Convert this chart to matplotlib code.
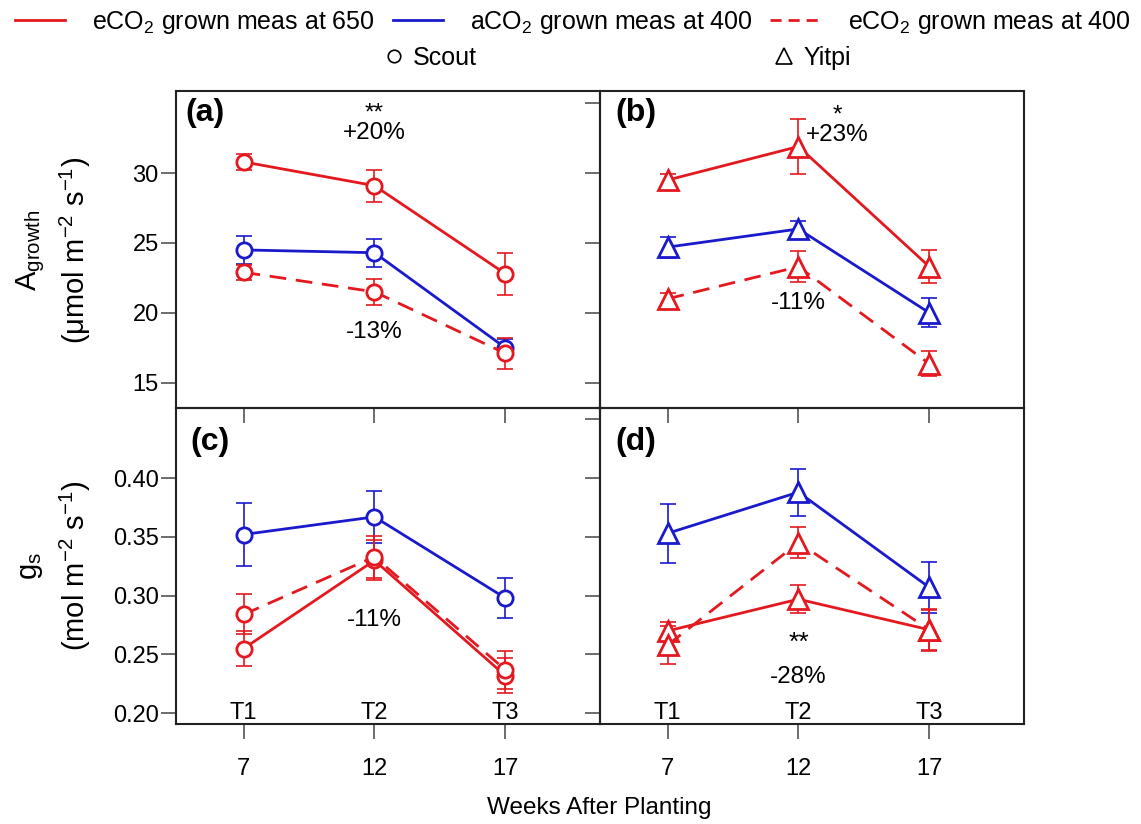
import matplotlib
matplotlib.use('Agg')
import matplotlib.pyplot as plt
from matplotlib.lines import Line2D

plt.rcParams['font.family'] = ['Liberation Sans', 'DejaVu Sans']
plt.rcParams['mathtext.fontset'] = 'custom'
plt.rcParams['mathtext.rm'] = 'Liberation Sans'
plt.rcParams['mathtext.it'] = 'Liberation Sans:italic'
plt.rcParams['mathtext.bf'] = 'Liberation Sans:bold'

RED = '#e3191f'
BLUE = '#1a1acc'

weeks = [7, 12, 17]
stage_labels = ['T1', 'T2', 'T3']

# Scout, A growth (panel a)
a_e650 = [30.8, 29.1, 22.8]
a_e650_err = [0.6, 1.15, 1.5]
a_amb = [24.5, 24.3, 17.5]
a_amb_err = [1.0, 1.0, 0.6]
a_e400 = [22.9, 21.5, 17.1]
a_e400_err = [0.55, 0.95, 1.1]

# Yitpi, A growth (panel b)
b_e650 = [29.5, 31.9, 23.3]
b_e650_err = [0.4, 2.0, 1.2]
b_amb = [24.7, 26.0, 20.0]
b_amb_err = [0.75, 0.6, 1.05]
b_e400 = [21.0, 23.3, 16.35]
b_e400_err = [0.45, 1.1, 0.9]

# Scout, gs (panel c)
c_e650 = [0.255, 0.330, 0.232]
c_e650_err = [0.015, 0.017, 0.015]
c_amb = [0.352, 0.367, 0.298]
c_amb_err = [0.027, 0.022, 0.017]
c_e400 = [0.284, 0.333, 0.237]
c_e400_err = [0.017, 0.018, 0.016]

# Yitpi, gs (panel d)
d_e650 = [0.270, 0.297, 0.271]
d_e650_err = [0.008, 0.012, 0.018]
d_amb = [0.353, 0.388, 0.307]
d_amb_err = [0.025, 0.020, 0.022]
d_e400 = [0.258, 0.345, 0.271]
d_e400_err = [0.016, 0.013, 0.017]

fig = plt.figure(figsize=(11.41, 8.24), dpi=100)

L, W = 0.1543, 0.3716
B_TOP, H_TOP = 0.5049, 0.3841
B_BOT, H_BOT = 0.1214, 0.3835

ax_a = fig.add_axes([L, B_TOP, W, H_TOP])
ax_c = fig.add_axes([L, B_BOT, W, H_BOT])
ax_b = fig.add_axes([L + W, B_TOP, W, H_TOP])
ax_d = fig.add_axes([L + W, B_BOT, W, H_BOT])

panels = [
    (ax_a, 'o', a_e650, a_e650_err, a_amb, a_amb_err, a_e400, a_e400_err),
    (ax_b, '^', b_e650, b_e650_err, b_amb, b_amb_err, b_e400, b_e400_err),
    (ax_c, 'o', c_e650, c_e650_err, c_amb, c_amb_err, c_e400, c_e400_err),
    (ax_d, '^', d_e650, d_e650_err, d_amb, d_amb_err, d_e400, d_e400_err),
]

def draw_series(ax, vals, err, color, ls, marker):
    ms = 11 if marker == 'o' else 15
    ax.errorbar(weeks, vals, yerr=err, fmt='none', ecolor=color,
                elinewidth=1.2, capsize=6, capthick=1.2, zorder=2)
    if ls == '--':
        ax.plot(weeks, vals, color=color, lw=2, dashes=(6, 3.5), marker=marker,
                ms=ms, mfc='white', mec=color, mew=2, zorder=3)
    else:
        ax.plot(weeks, vals, color=color, lw=2, marker=marker,
                ms=ms, mfc='white', mec=color, mew=2, zorder=3)

for ax, m, e650, e650e, amb, ambe, e400, e400e in panels:
    draw_series(ax, amb, ambe, BLUE, '-', m)
    draw_series(ax, e650, e650e, RED, '-', m)
    draw_series(ax, e400, e400e, RED, '--', m)
    ax.patch.set_visible(False)
    ax.set_xlim(4.42, 20.62)
    ax.set_xticks(weeks)
    for s in ax.spines.values():
        s.set_linewidth(1.5)
        s.set_color('#222222')
    ax.tick_params(direction='out', length=10.5, width=1.1, color='#444444',
                   labelsize=17)
    ax.tick_params(axis='x', pad=14)
    ax.tick_params(axis='y', pad=2)

for ax in (ax_a, ax_b):
    ax.set_ylim(13.19, 35.84)
    ax.tick_params(axis='x', labelbottom=False)
ax_a.set_yticks([15, 20, 25, 30])
ax_b.set_yticks([15, 20, 25, 30, 35])
ax_b.tick_params(axis='y', labelleft=False)

for ax in (ax_c, ax_d):
    ax.set_ylim(0.1909, 0.4596)
    for x, t in zip(weeks, stage_labels):
        ax.text(x, 0.20, t, ha='center', va='center', fontsize=17)
ax_c.set_yticks([0.20, 0.25, 0.30, 0.35, 0.40])
ax_c.set_yticklabels(['%.2f' % v for v in [0.20, 0.25, 0.30, 0.35, 0.40]])
ax_d.set_yticks([0.20, 0.25, 0.30, 0.35, 0.40, 0.45])
ax_d.tick_params(axis='y', labelleft=False)

# panel letters
ax_a.text(0.021, 0.932, '(a)', transform=ax_a.transAxes, fontsize=23,
          fontweight='bold', ha='left', va='center')
ax_b.text(0.036, 0.932, '(b)', transform=ax_b.transAxes, fontsize=23,
          fontweight='bold', ha='left', va='center')
ax_c.text(0.033, 0.893, '(c)', transform=ax_c.transAxes, fontsize=23,
          fontweight='bold', ha='left', va='center')
ax_d.text(0.036, 0.893, '(d)', transform=ax_d.transAxes, fontsize=23,
          fontweight='bold', ha='left', va='center')

# significance notes
ax_a.text(12, 33.55, '**\n+20%', ha='center', va='center', fontsize=17.5,
          linespacing=0.85)
ax_a.text(12, 18.65, '-13%', ha='center', va='center', fontsize=17.5)
ax_b.text(13.5, 33.45, '*\n+23%', ha='center', va='center', fontsize=17.5,
          linespacing=0.85)
ax_b.text(12, 20.7, '-11%', ha='center', va='center', fontsize=17.5)
ax_c.text(12, 0.2793, '-11%', ha='center', va='center', fontsize=17.5)
ax_d.text(12, 0.2600, '**', ha='center', va='center', fontsize=19)
ax_d.text(12, 0.2309, '-28%', ha='center', va='center', fontsize=17.5)

# axis titles
fig.text(0.027, 0.6965, r'A$_{\mathrm{growth}}$', rotation=90, ha='center',
         va='center', fontsize=21)
fig.text(0.066, 0.6965, r'(μmol m$^{-2}$ s$^{-1}$)', rotation=90, ha='center',
         va='center', fontsize=21)
fig.text(0.027, 0.313, r'g$_{\mathrm{s}}$', rotation=90, ha='center',
         va='center', fontsize=21)
fig.text(0.066, 0.313, r'(mol m$^{-2}$ s$^{-1}$)', rotation=90, ha='center',
         va='center', fontsize=21)
fig.text(0.525, 0.0194, 'Weeks After Planting', ha='center', va='center',
         fontsize=17.5)

# legend
row1 = [Line2D([], [], color=RED, lw=2),
        Line2D([], [], color=BLUE, lw=2),
        Line2D([], [], color=RED, lw=2, dashes=(4, 2.5))]
fig.legend(row1, [r'eCO$_2$ grown meas at 650', r'aCO$_2$ grown meas at 400',
                  r'eCO$_2$ grown meas at 400'],
           loc='center', bbox_to_anchor=(0.502, 0.973), ncol=3, frameon=False,
           fontsize=18, handlelength=2.0, handletextpad=1.1,
           columnspacing=0.7, borderpad=0, borderaxespad=0)
row2 = [Line2D([], [], color='black', lw=0, marker='o', ms=9, mfc='white', mew=1.2),
        Line2D([], [], color='black', lw=0, marker='^', ms=11, mfc='white', mew=1.2)]
fig.legend(row2, ['Scout', 'Yitpi'], loc='center', bbox_to_anchor=(0.541, 0.930),
           ncol=2, frameon=False, fontsize=18, handlelength=0.8,
           handletextpad=0.35, columnspacing=11.9, borderpad=0, borderaxespad=0)

fig.savefig('out.png', dpi=100, facecolor='white')
